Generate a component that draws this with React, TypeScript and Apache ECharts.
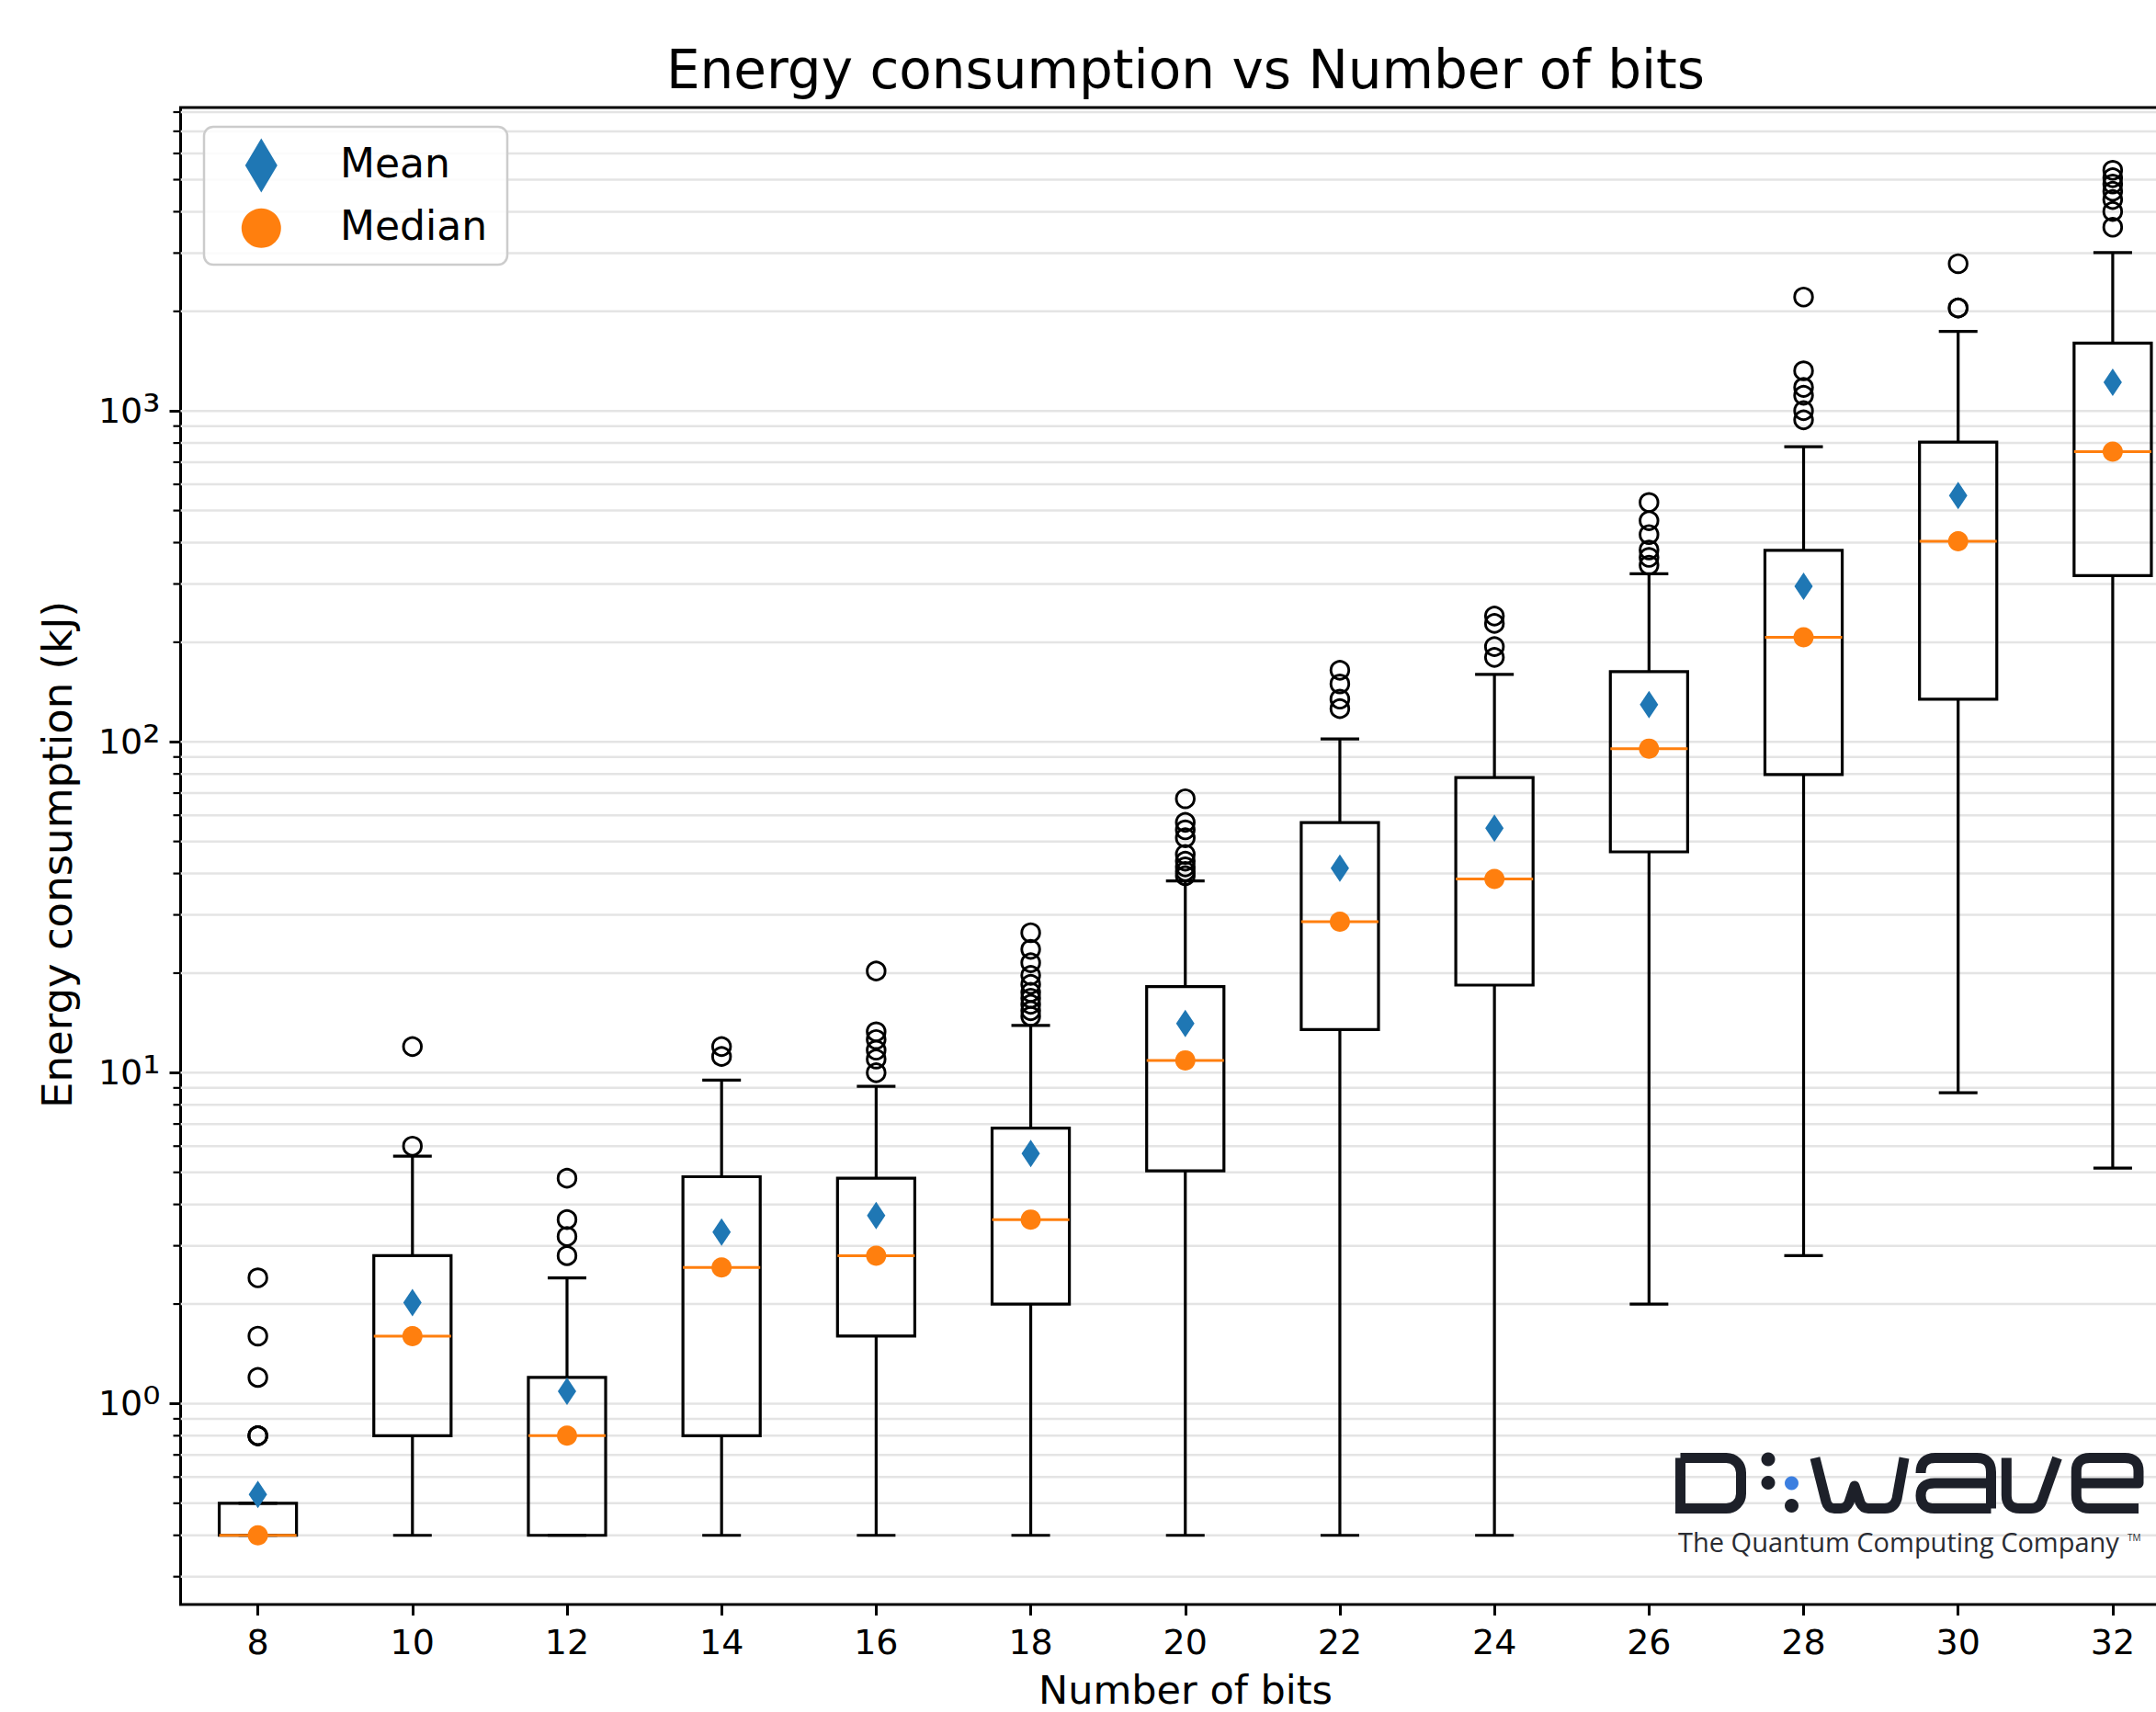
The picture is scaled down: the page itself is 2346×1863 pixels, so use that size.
import React, { useEffect, useRef } from "react";
import * as echarts from "echarts";

// ---------------- data ----------------
const CATEGORIES = ["8", "10", "12", "14", "16", "18", "20", "22", "24", "26", "28", "30", "32"];
const WHISKER_LOW = [0.4, 0.4, 0.4, 0.4, 0.4, 0.4, 0.4, 0.4, 0.4, 2.0, 2.8, 8.7, 5.15];
const Q1 = [0.4, 0.8, 0.4, 0.8, 1.6, 2.0, 5.05, 13.5, 18.4, 46.5, 79.6, 134.6, 318];
const MEDIAN = [0.4, 1.6, 0.8, 2.58, 2.8, 3.6, 10.9, 28.6, 38.5, 95.4, 207, 404, 753];
const Q3 = [0.5, 2.8, 1.2, 4.85, 4.8, 6.8, 18.2, 57, 78, 163, 379, 805, 1604];
const WHISKER_HIGH = [0.5, 5.6, 2.4, 9.5, 9.1, 13.9, 38, 102, 160, 322, 780, 1740, 3010];
const MEAN = [0.532, 2.02, 1.09, 3.3, 3.7, 5.7, 14.1, 41.5, 54.8, 129.6, 295, 555, 1220];
const OUTLIERS: number[][] = [
  [0.8, 0.8, 0.8, 1.2, 1.6, 2.4],
  [6.0, 12.0],
  [2.8, 3.2, 3.6, 4.8],
  [11.2, 12.0],
  [10.0, 11.0, 11.7, 12.6, 13.3, 20.3],
  [14.8, 15.4, 16.1, 16.8, 17.5, 18.5, 19.7, 21.5, 23.6, 26.5],
  [39.4, 40.6, 41.9, 43.6, 45.7, 51.3, 54.2, 57.1, 67.3],
  [126, 134.6, 149.6, 164.6],
  [180, 194, 228, 240],
  [342, 361, 380, 423, 466, 529],
  [940, 1002, 1115, 1178, 1322, 2209],
  [2047, 2047, 2786],
  [3591, 4006, 4353, 4612, 4850, 5070, 5337],
];
const MAJOR_TICKS = [1, 10, 100, 1000];
const MINOR_TICKS = [
  0.3, 0.4, 0.5, 0.6, 0.7, 0.8, 0.9,
  2, 3, 4, 5, 6, 7, 8, 9,
  20, 30, 40, 50, 60, 70, 80, 90,
  200, 300, 400, 500, 600, 700, 800, 900,
  2000, 3000, 4000, 5000, 6000, 7000, 8000,
];
const SUPERSCRIPTS = ["⁰", "¹", "²", "³", "⁴"];

const TITLE = "Energy consumption vs Number of bits";
const X_NAME = "Number of bits";
const Y_NAME = "Energy consumption (kJ)";
const LEGEND_MEAN = "Mean";
const LEGEND_MEDIAN = "Median";
const TAGLINE = "The Quantum Computing Company";

// ---------------- style ----------------
const BLACK = "#000000";
const ORANGE = "#ff7f0e";
const BLUE = "#1f77b4";
const GRID_COLOR = "#e4e4e4";
const LOGO_DARK = "#1d2029";
const LOGO_BLUE = "#3c7fe0";
const FONT = "DejaVu Sans";

const WAVE_PATH =
  "M152,5.5 L164,53 Q166,60.5 173,60.5 L180,60.5 Q186,60.5 189,54 L195,36 L201,54 Q204,60.5 210,60.5 L228,60.5 Q238,60.5 241,50 L249,5.5 " +
  "M267,22 Q267,5.5 283,5.5 L328,5.5 Q343.5,5.5 343.5,21 L343.5,60.5 " +
  "M343.5,33 L282,33 Q267,33 267,46.5 Q267,60.5 282,60.5 L343.5,60.5 " +
  "M360.3,5.5 L360.3,46 Q360.3,60.5 375,60.5 L387,60.5 Q396,60.5 399,52 L415.5,5.5 " +
  "M504,60.5 L451,60.5 Q436.3,60.5 436.3,46 L436.3,20 Q436.3,5.5 451,5.5 L489,5.5 Q504,5.5 504,20 L504,33 L436.3,33";

echarts.graphic.registerShape("dwaveLetters", echarts.graphic.extendPath(WAVE_PATH, {}));

function buildOption(): any {
  const boxData = CATEGORIES.map((_, i) => [i, WHISKER_LOW[i], Q1[i], MEDIAN[i], Q3[i], WHISKER_HIGH[i]]);
  const gridData = [
    ...MAJOR_TICKS.map((v) => [0, v, 0]),
    ...MINOR_TICKS.map((v) => [0, v, 1]),
  ];
  const outlierData: number[][] = [];
  OUTLIERS.forEach((arr, i) => arr.forEach((v) => outlierData.push([i, v])));
  const meanData = MEAN.map((v, i) => [i, v]);
  const medianData = MEDIAN.map((v, i) => [i, v]);

  const txt = (text: string, x: number, y: number, size: number, extra: any = {}) => ({
    type: "text",
    x,
    y,
    z: 60,
    silent: true,
    ...extra,
    style: {
      text,
      fill: BLACK,
      fontSize: size,
      fontFamily: FONT,
      align: extra.align || "left",
      textAlign: extra.align || "left",
      verticalAlign: "middle",
      textVerticalAlign: "middle",
    },
  });

  return {
    animation: false,
    backgroundColor: "#ffffff",
    grid: {
      left: 196.5,
      top: 117,
      right: -37,
      bottom: 117,
      containLabel: false,
      outerBoundsMode: "none",
      show: true,
      borderColor: BLACK,
      borderWidth: 3,
      backgroundColor: "transparent",
    },
    xAxis: {
      type: "category",
      data: CATEGORIES,
      boundaryGap: true,
      axisLine: { show: false },
      axisTick: { show: true, alignWithLabel: true, length: 12, lineStyle: { color: BLACK, width: 3 } },
      axisLabel: { interval: 0, margin: 22, color: BLACK, fontSize: 38, fontFamily: FONT },
      splitLine: { show: false },
    },
    yAxis: {
      type: "log",
      logBase: 10,
      min: 0.2472,
      max: 8260,
      axisLine: { show: false },
      axisTick: { show: true, length: 12, lineStyle: { color: BLACK, width: 3 }, customValues: MAJOR_TICKS },
      axisLabel: {
        customValues: MAJOR_TICKS,
        margin: 22,
        color: BLACK,
        fontSize: 38,
        fontFamily: FONT,
        formatter: (v: number) => "{b|10}{s|" + SUPERSCRIPTS[Math.round(Math.log10(v))] + "}",
        rich: {
          b: { fontSize: 38, fontFamily: FONT, color: BLACK },
          s: { fontSize: 48, fontFamily: FONT, color: BLACK },
        },
      },
      splitLine: { show: false },
      minorTick: { show: false },
      minorSplitLine: { show: false },
    },
    series: [
      {
        type: "custom",
        name: "grid",
        silent: true,
        z: 1,
        clip: false,
        data: gridData,
        encode: { x: 0, y: 1 },
        renderItem: (params: any, api: any) => {
          const cs = params.coordSys;
          const y = api.coord([0, api.value(1)])[1];
          const children: any[] = [
            { type: "line", shape: { x1: cs.x, y1: y, x2: cs.x + cs.width, y2: y }, style: { stroke: GRID_COLOR, lineWidth: 2.5 } },
          ];
          if (api.value(2) === 1) {
            children.push({ type: "line", shape: { x1: cs.x - 8, y1: y, x2: cs.x, y2: y }, style: { stroke: BLACK, lineWidth: 2.2 } });
          }
          return { type: "group", children };
        },
      },
      {
        type: "custom",
        name: "box",
        silent: true,
        z: 3,
        clip: false,
        data: boxData,
        encode: { x: 0, y: [1, 2, 3, 4, 5] },
        renderItem: (params: any, api: any) => {
          const i = api.value(0);
          const band = api.coord([1, 1])[0] - api.coord([0, 1])[0];
          const hw = band * 0.25;
          const cw = band * 0.125;
          const yLow = api.coord([i, api.value(1)])[1];
          const yQ1 = api.coord([i, api.value(2)])[1];
          const yMed = api.coord([i, api.value(3)])[1];
          const yQ3 = api.coord([i, api.value(4)])[1];
          const yHigh = api.coord([i, api.value(5)])[1];
          const cx = api.coord([i, api.value(2)])[0];
          const ln = (x1: number, y1: number, x2: number, y2: number, stroke: string, lw: number) => ({
            type: "line",
            shape: { x1, y1, x2, y2 },
            style: { stroke, lineWidth: lw },
          });
          return {
            type: "group",
            children: [
              ln(cx, yQ1, cx, yLow, BLACK, 3.2),
              ln(cx, yQ3, cx, yHigh, BLACK, 3.2),
              ln(cx - cw, yLow, cx + cw, yLow, BLACK, 3.2),
              ln(cx - cw, yHigh, cx + cw, yHigh, BLACK, 3.2),
              {
                type: "rect",
                shape: { x: cx - hw, y: yQ3, width: 2 * hw, height: yQ1 - yQ3 },
                style: { fill: "none", stroke: BLACK, lineWidth: 3.2 },
              },
              ln(cx - hw, yMed, cx + hw, yMed, ORANGE, 3),
            ],
          };
        },
      },
      {
        type: "scatter",
        name: "Outliers",
        silent: true,
        z: 4,
        data: outlierData,
        symbol: "circle",
        symbolSize: 19.5,
        itemStyle: { color: "rgba(0,0,0,0)", borderColor: BLACK, borderWidth: 2.9, opacity: 1 },
      },
      {
        type: "scatter",
        name: LEGEND_MEDIAN,
        silent: true,
        z: 5,
        data: medianData,
        symbol: "circle",
        symbolSize: 22,
        itemStyle: { color: ORANGE, opacity: 1 },
      },
      {
        type: "scatter",
        name: LEGEND_MEAN,
        silent: true,
        z: 6,
        data: meanData,
        symbol: "diamond",
        symbolSize: [20, 30],
        itemStyle: { color: BLUE, opacity: 1 },
      },
    ],
    graphic: [
      txt(TITLE, 1290, 76, 58, { align: "center" }),
      txt(X_NAME, 1290, 1839, 43, { align: "center" }),
      txt(Y_NAME, 62, 930, 45, { align: "center", rotation: Math.PI / 2 }),
      {
        type: "group",
        z: 60,
        silent: true,
        children: [
          {
            type: "rect",
            z: 60,
            shape: { x: 222, y: 138, width: 330, height: 150, r: 10 },
            style: { fill: "rgba(255,255,255,0.85)", stroke: "#cccccc", lineWidth: 2.5 },
          },
          {
            type: "polygon",
            z: 61,
            shape: { points: [[266.8, 180], [284.3, 150.5], [301.8, 180], [284.3, 209.5]] },
            style: { fill: BLUE },
          },
          { type: "circle", z: 61, shape: { cx: 284.3, cy: 248.3, r: 21.5 }, style: { fill: ORANGE } },
        ],
      },
      txt(LEGEND_MEAN, 370, 177.5, 44, { z: 62 }),
      txt(LEGEND_MEDIAN, 370, 245.8, 44, { z: 62 }),
      {
        type: "group",
        x: 1823,
        y: 1581,
        z: 60,
        silent: true,
        children: [
          {
            type: "rect",
            z: 60,
            shape: { x: 5.5, y: 5.5, width: 66, height: 55, r: [0, 16, 16, 0] },
            style: { fill: "none", stroke: LOGO_DARK, lineWidth: 11 },
          },
          { type: "circle", z: 60, shape: { cx: 101, cy: 7, r: 7.5 }, style: { fill: LOGO_DARK } },
          { type: "circle", z: 60, shape: { cx: 101, cy: 32.5, r: 7.5 }, style: { fill: LOGO_DARK } },
          { type: "circle", z: 60, shape: { cx: 126.5, cy: 33, r: 7.5 }, style: { fill: LOGO_BLUE } },
          { type: "circle", z: 60, shape: { cx: 126.5, cy: 57.5, r: 7.5 }, style: { fill: LOGO_DARK } },
          {
            type: "dwaveLetters",
            z: 60,
            style: { fill: "none", stroke: LOGO_DARK, lineWidth: 11, lineJoin: "round", lineCap: "butt" },
          },
          {
            type: "text",
            z: 60,
            x: 3,
            y: 96,
            style: {
              text: TAGLINE,
              fill: "#2a2c33",
              fontSize: 29,
              fontFamily: "Open Sans",
              align: "left",
              textAlign: "left",
              verticalAlign: "middle",
              textVerticalAlign: "middle",
            },
          },
          {
            type: "text",
            z: 60,
            x: 492,
            y: 92,
            style: {
              text: "TM",
              fill: "#2a2c33",
              fontSize: 10,
              fontFamily: "Open Sans",
              align: "left",
              textAlign: "left",
              verticalAlign: "middle",
              textVerticalAlign: "middle",
            },
          },
        ],
      },
    ],
  };
}

export default function App() {
  const ref = useRef<HTMLDivElement>(null);
  useEffect(() => {
    if (!ref.current) return;
    const chart = echarts.init(ref.current, undefined, { renderer: "svg" });
    chart.setOption(buildOption());
    return () => chart.dispose();
  }, []);
  return (
    <div
      ref={ref}
      style={{ position: "fixed", left: 0, top: 0, width: 2346, height: 1863, background: "#ffffff" }}
    />
  );
}
